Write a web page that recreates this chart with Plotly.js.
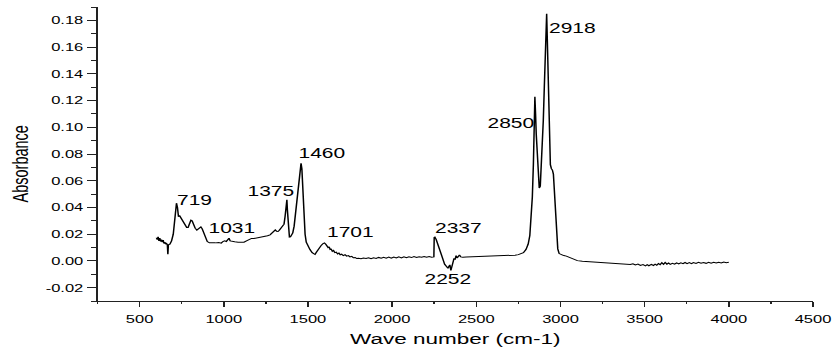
<!DOCTYPE html>
<html>
<head>
<meta charset="utf-8">
<script src="https://cdn.plot.ly/plotly-3.0.1.min.js"></script>
<style>
  html, body { margin: 0; padding: 0; background: #fff; overflow: hidden; }
  #wrap { width: 835px; height: 353px; overflow: hidden; }
  #chart { width: 556.67px; height: 353px; transform: scaleX(1.5); transform-origin: 0 0; }
</style>
</head>
<body>
<div id="wrap"><div id="chart"></div></div>
<script>
// Wave number (cm-1)
const waveNumber = [
  600,605,610,615,620,625,630,635,640,645,650,655,660,665,668,671,680,690,700,708,714,719,725,731,737,745,752,760,770,780,788,796,805,812,820,830,840,848,856,864,872,882,892,902,915,930,950,970,985,995,
  1005,1015,1024,1031,1038,1050,1065,1085,1105,1120,1135,1150,1165,1180,1200,1220,1240,1260,1275,1288,1298,1306,1314,1322,1330,1340,1350,1358,1364,1368,1372,1375,1378,1382,1386,1390,1396,1403,1410,1418,1425,1432,1440,1447,1453,1459,1464,1468,1472,1477,1483,1490,1500,1512,1525,1535,1542,1550,1560,1570,1580,1590,1598,1606,1614,1620,1626,1632,1638,1645,1652,1660,1668,1676,1684,1692,1700,1710,1720,1730,1740,1750,1760,1770,1780,1790,1800,
  1815,1830,1845,1860,1875,1890,1905,1920,1935,1950,1965,1980,1995,2010,2025,2040,2055,2070,2085,2100,2115,2130,2145,2160,2175,2190,2205,2220,2235,2245,2248,2250,2254,2262,2272,2282,2292,2302,2312,2322,2332,2338,2343,2349,2355,2362,2368,2374,2380,2386,2392,2400,2408,2420,2440,2470,2500,2540,2580,2620,2660,2700,2730,2750,2765,2780,2795,2808,2818,2826,2833,2839,2844,2848,2852,2856,2862,2868,2874,2880,2886,2892,2898,2904,2910,2915,2918,2922,2926,2930,2935,2940,2946,2952,2958,2963,2968,2973,2978,2984,2992,
  3005,3020,3035,3050,3065,3080,3100,3130,3170,3210,3250,3290,3330,3360,3380,3400,3415,3430,3445,3460,3475,3490,3505,3515,3525,3540,3552,3562,3572,3582,3592,3602,3612,3622,3632,3642,3652,3665,3678,3690,3702,3715,3728,3740,3752,3765,3778,3790,3805,3820,3835,3850,3865,3880,3895,3910,3925,3940,3955,3970,3985,4000
];
// Absorbance
const absorbance = [
  0.0175,0.0160,0.0180,0.0150,0.0170,0.0145,0.0160,0.0140,0.0155,0.0130,0.0140,0.0125,0.0130,0.0120,0.0050,0.0120,0.0125,0.0150,0.0200,0.0280,0.0380,0.0432,0.0400,0.0330,0.0340,0.0325,0.0315,0.0300,0.0270,0.0250,0.0250,0.0275,0.0305,0.0300,0.0270,0.0245,0.0230,0.0240,0.0255,0.0255,0.0240,0.0200,0.0165,0.0145,0.0135,0.0133,0.0135,0.0138,0.0133,0.0145,
  0.0150,0.0145,0.0160,0.0170,0.0150,0.0145,0.0143,0.0140,0.0138,0.0140,0.0150,0.0160,0.0168,0.0168,0.0172,0.0178,0.0180,0.0188,0.0195,0.0210,0.0230,0.0232,0.0222,0.0220,0.0230,0.0245,0.0255,0.0275,0.0330,0.0400,0.0452,0.0457,0.0380,0.0260,0.0195,0.0178,0.0180,0.0190,0.0210,0.0260,0.0340,0.0440,0.0560,0.0650,0.0710,0.0730,0.0690,0.0560,0.0430,0.0300,0.0200,0.0140,0.0110,0.0085,0.0062,0.0048,0.0048,0.0065,0.0088,0.0105,0.0118,0.0130,0.0134,0.0125,0.0110,0.0100,0.0105,0.0085,0.0088,0.0072,0.0078,0.0062,0.0066,0.0052,0.0058,0.0046,0.0050,0.0040,0.0046,0.0036,0.0040,0.0030,0.0034,0.0024,0.0026,0.0018,0.0020,
  0.0016,0.0022,0.0018,0.0024,0.0017,0.0023,0.0019,0.0026,0.0020,0.0027,0.0021,0.0028,0.0020,0.0029,0.0022,0.0030,0.0023,0.0031,0.0024,0.0030,0.0025,0.0032,0.0026,0.0031,0.0027,0.0033,0.0027,0.0032,0.0028,0.0030,0.0030,0.0175,0.0178,0.0160,0.0125,0.0085,0.0040,0.0005,-0.0025,-0.0040,-0.0055,-0.0040,-0.0030,-0.0072,-0.0040,0.0005,0.0020,0.0010,0.0040,0.0022,0.0038,0.0045,0.0030,0.0027,0.0029,0.0030,0.0032,0.0033,0.0035,0.0037,0.0038,0.0040,0.0043,0.0047,0.0052,0.0062,0.0085,0.0125,0.0190,0.0300,0.0480,0.0720,0.1000,0.1228,0.1100,0.0950,0.0760,0.0620,0.0545,0.0560,0.0680,0.0850,0.1050,0.1300,0.1600,0.1830,0.1850,0.1650,0.1350,0.1050,0.0850,0.0720,0.0690,0.0680,0.0650,0.0560,0.0440,0.0300,0.0170,0.0090,0.0055,
  0.0045,0.0040,0.0036,0.0028,0.0016,0.0008,0.0002,-0.0002,-0.0005,-0.0008,-0.0011,-0.0014,-0.0016,-0.0018,-0.0022,-0.0020,-0.0026,-0.0021,-0.0030,-0.0024,-0.0034,-0.0027,-0.0037,-0.0028,-0.0036,-0.0026,-0.0034,-0.0024,-0.0032,-0.0020,-0.0028,-0.0014,-0.0026,-0.0012,-0.0024,-0.0016,-0.0026,-0.0018,-0.0024,-0.0015,-0.0022,-0.0014,-0.0020,-0.0012,-0.0020,-0.0013,-0.0021,-0.0012,-0.0019,-0.0011,-0.0018,-0.0012,-0.0018,-0.0010,-0.0017,-0.0011,-0.0016,-0.0010,-0.0015,-0.0009,-0.0013,-0.0010
];

// Peak labels and where they are written (data coordinates)
const peakLabels = ['719','1031','1375','1460','1701','2337','2252','2850','2918'];
const labelWn    = [830, 1044, 1275, 1580, 1747, 2397, 2326, 2708, 3067];
const labelAbs   = [0.0457, 0.0248, 0.052, 0.0808, 0.0216, 0.0243, -0.0133, 0.1029, 0.1743];

// Axis ticks
const xTickVals = [500,1000,1500,2000,2500,3000,3500,4000,4500];
const yTickVals = [-0.02,0,0.02,0.04,0.06,0.08,0.10,0.12,0.14,0.16,0.18];
const yTickText = ['-0.02','0.00','0.02','0.04','0.06','0.08','0.10','0.12','0.14','0.16','0.18'];

const FONT = 'Liberation Sans, Arial, sans-serif';

const trace = {
  x: waveNumber, y: absorbance, type: 'scatter', mode: 'lines',
  line: {color: '#000', width: 1}, hoverinfo: 'skip'
};

const annotations = peakLabels.map((t, i) => ({
  x: labelWn[i], y: labelAbs[i], xref: 'x', yref: 'y', text: t,
  showarrow: false, font: {family: FONT, size: 14, color: '#000'},
  xanchor: 'center', yanchor: 'middle'
}));

// Y-axis title (placed slightly below the axis middle, as in the original)
annotations.push({
  x: -0.108, y: 0.466, xref: 'paper', yref: 'paper', text: 'Absorbance',
  textangle: -90, showarrow: false, xanchor: 'center', yanchor: 'middle',
  font: {family: FONT, size: 14.5, color: '#000'}
});

const layout = {
  width: 556.67, height: 353,
  margin: {l: 64.9, r: 14.7, t: 6.6, b: 51.6, pad: 0},
  paper_bgcolor: '#fff', plot_bgcolor: '#fff',
  showlegend: false,
  font: {family: FONT, color: '#000', size: 11},
  xaxis: {
    range: [250, 4500], tickmode: 'array', tickvals: xTickVals,
    ticks: 'outside', ticklen: 4.7, tickwidth: 1, tickcolor: '#222',
    ticklabelstandoff: 3,
    showline: true, linecolor: '#222', linewidth: 1, mirror: false,
    showgrid: false, zeroline: false,
    tickfont: {family: FONT, size: 11, color: '#000'},
    minor: {tickmode: 'linear', tick0: 0, dtick: 250, ticks: 'outside', ticklen: 2.3, tickcolor: '#222', tickwidth: 1, showgrid: false},
    title: {text: 'Wave number (cm-1)', font: {family: FONT, size: 15, color: '#000'}, standoff: 9}
  },
  yaxis: {
    range: [-0.03, 0.19], tickmode: 'array', tickvals: yTickVals, ticktext: yTickText,
    ticks: 'outside', ticklen: 6.3, tickwidth: 1, tickcolor: '#222',
    showline: true, linecolor: '#222', linewidth: 1, mirror: false,
    showgrid: false, zeroline: false,
    tickfont: {family: FONT, size: 11, color: '#000'},
    minor: {tickmode: 'linear', tick0: 0, dtick: 0.01, ticks: 'outside', ticklen: 3.3, tickcolor: '#222', tickwidth: 1, showgrid: false}
  },
  annotations: annotations
};

Plotly.newPlot('chart', [trace], layout, {staticPlot: true, displayModeBar: false});
</script>
</body>
</html>
